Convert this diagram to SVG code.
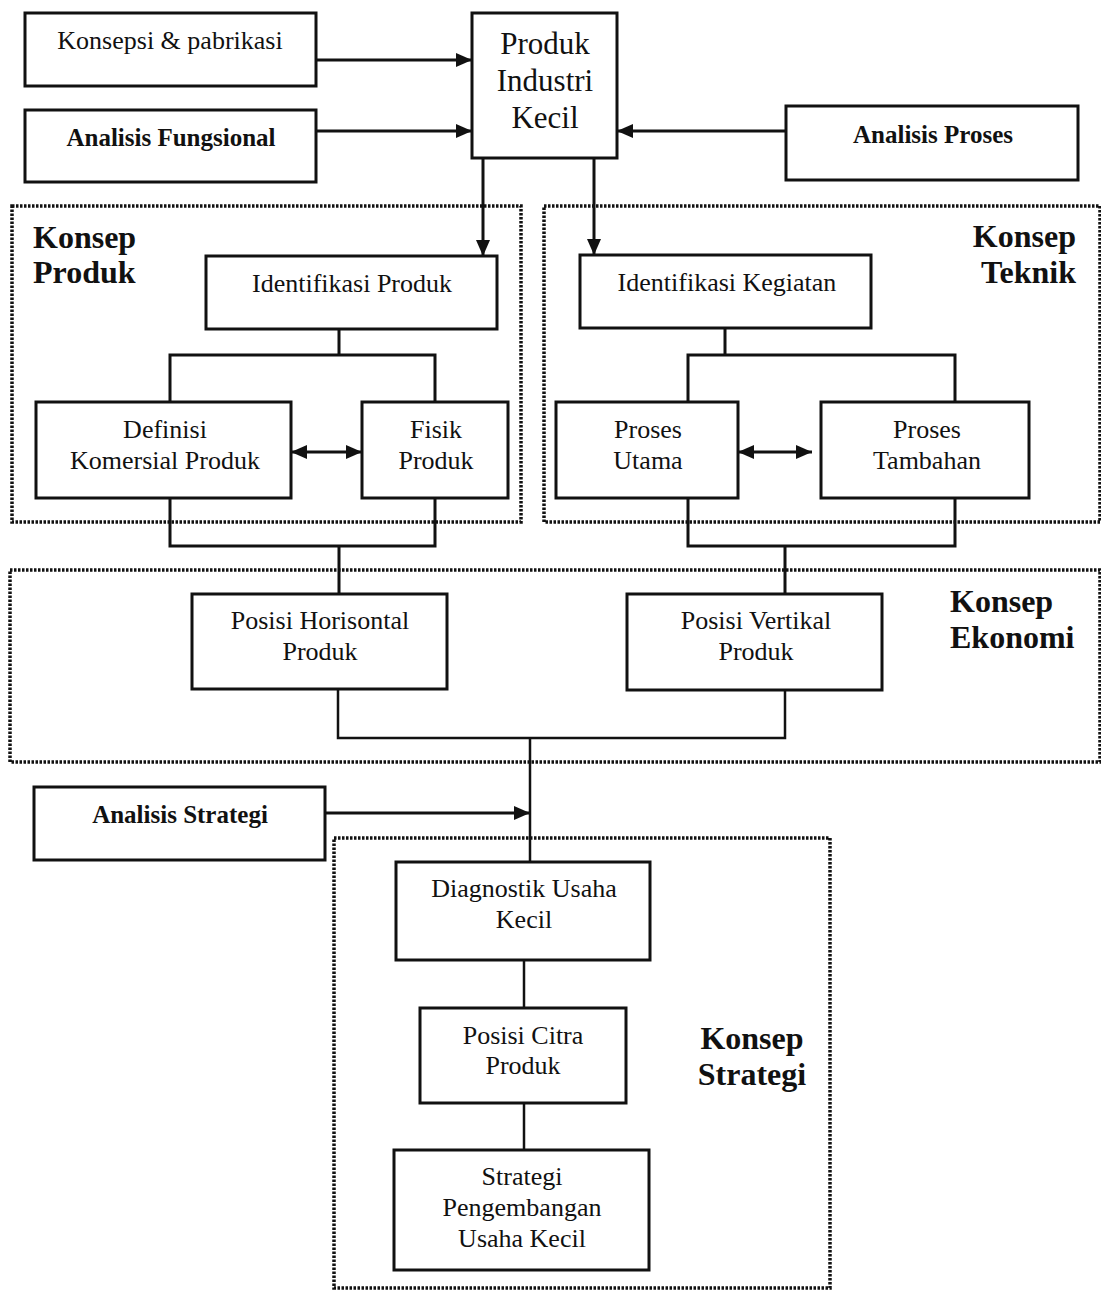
<svg xmlns="http://www.w3.org/2000/svg" width="1101" height="1291" viewBox="0 0 1101 1291">
<defs>
<marker id="ah" viewBox="0 0 16 14" refX="16" refY="7" markerWidth="16" markerHeight="14" markerUnits="userSpaceOnUse" orient="auto-start-reverse">
<path d="M0,0 L16,7 L0,14 z" fill="#111"/>
</marker>
</defs>
<style>
.box{fill:#fff;stroke:#111;stroke-width:3}
.grp{fill:none;stroke:#111;stroke-width:3.5;stroke-dasharray:2.5 1.5}
.t{font-family:"Liberation Serif","Times New Roman",serif;font-size:26px;fill:#111;text-anchor:middle}
.b{font-family:"Liberation Serif","Times New Roman",serif;font-size:25px;font-weight:bold;fill:#111;text-anchor:middle}
.big{font-family:"Liberation Serif","Times New Roman",serif;font-size:31px;fill:#111;text-anchor:middle}
.lbl{font-family:"Liberation Serif","Times New Roman",serif;font-size:32px;font-weight:bold;fill:#111}
.c{fill:none;stroke:#111;stroke-width:3}
.c2{fill:none;stroke:#111;stroke-width:2.5}
</style>
<rect width="1101" height="1291" fill="#fff"/>

<g id="groups">
<rect id="konsep-produk" class="grp" x="12" y="206" width="509" height="316"/>
<rect id="konsep-teknik" class="grp" x="544" y="206" width="556" height="316"/>
<rect id="konsep-ekonomi" class="grp" x="10" y="570" width="1090" height="192"/>
<rect id="konsep-strategi" class="grp" x="334" y="838" width="496" height="450"/>
<text class="lbl" x="33" y="248">Konsep</text>
<text class="lbl" x="33" y="283">Produk</text>
<text class="lbl" x="1076" y="247" text-anchor="end">Konsep</text>
<text class="lbl" x="1076" y="283" text-anchor="end">Teknik</text>
<text class="lbl" x="950" y="612">Konsep</text>
<text class="lbl" x="950" y="648">Ekonomi</text>
<text class="lbl" x="752" y="1049" text-anchor="middle">Konsep</text>
<text class="lbl" x="752" y="1085" text-anchor="middle">Strategi</text>
</g>

<g id="connectors">
<line class="c" x1="316" y1="60" x2="472" y2="60" marker-end="url(#ah)"/>
<line class="c" x1="316" y1="131" x2="472" y2="131" marker-end="url(#ah)"/>
<line class="c" x1="786" y1="131" x2="617" y2="131" marker-end="url(#ah)"/>
<line class="c" x1="483" y1="158" x2="483" y2="256" marker-end="url(#ah)"/>
<line class="c" x1="594" y1="158" x2="594" y2="255" marker-end="url(#ah)"/>
<path class="c" d="M339,329 V355 M170,402 V355 H435 V402"/>
<path class="c" d="M725,328 V355 M688,402 V355 H955 V402"/>
<line class="c" x1="291" y1="452" x2="362" y2="452" marker-start="url(#ah)" marker-end="url(#ah)"/>
<line class="c" x1="738" y1="452" x2="812" y2="452" marker-start="url(#ah)" marker-end="url(#ah)"/>
<path class="c" d="M170,498 V546 H435 V498 M339,546 V594"/>
<path class="c" d="M688,498 V546 H955 V498 M785,546 V594"/>
<path class="c2" d="M338,689 V738 H785 V690 M530,738 V862"/>
<line class="c" x1="325" y1="813" x2="530" y2="813" marker-end="url(#ah)"/>
<line class="c2" x1="524" y1="960" x2="524" y2="1008"/>
<line class="c2" x1="524" y1="1103" x2="524" y2="1150"/>
</g>

<g id="konsepsi"><rect class="box" x="25" y="13" width="291" height="73"/><text class="t" x="170" y="49">Konsepsi &amp; pabrikasi</text></g>
<g id="analisis-fungsional"><rect class="box" x="25" y="110" width="291" height="72"/><text class="b" x="171" y="146">Analisis Fungsional</text></g>
<g id="produk-industri"><rect class="box" x="472" y="13" width="145" height="145"/><text class="big" x="545" y="54">Produk</text><text class="big" x="545" y="91">Industri</text><text class="big" x="545" y="128">Kecil</text></g>
<g id="analisis-proses"><rect class="box" x="786" y="106" width="292" height="74"/><text class="b" x="933" y="143">Analisis Proses</text></g>

<g id="identifikasi-produk"><rect class="box" x="206" y="256" width="291" height="73"/><text class="t" x="352" y="292">Identifikasi Produk</text></g>
<g id="identifikasi-kegiatan"><rect class="box" x="580" y="255" width="291" height="73"/><text class="t" x="727" y="291">Identifikasi Kegiatan</text></g>
<g id="definisi"><rect class="box" x="36" y="402" width="255" height="96"/><text class="t" x="165" y="438">Definisi</text><text class="t" x="165" y="469">Komersial Produk</text></g>
<g id="fisik"><rect class="box" x="362" y="402" width="146" height="96"/><text class="t" x="436" y="438">Fisik</text><text class="t" x="436" y="469">Produk</text></g>
<g id="proses-utama"><rect class="box" x="556" y="402" width="182" height="96"/><text class="t" x="648" y="438">Proses</text><text class="t" x="648" y="469">Utama</text></g>
<g id="proses-tambahan"><rect class="box" x="821" y="402" width="208" height="96"/><text class="t" x="927" y="438">Proses</text><text class="t" x="927" y="469">Tambahan</text></g>

<g id="posisi-horisontal"><rect class="box" x="192" y="594" width="255" height="95"/><text class="t" x="320" y="629">Posisi Horisontal</text><text class="t" x="320" y="660">Produk</text></g>
<g id="posisi-vertikal"><rect class="box" x="627" y="594" width="255" height="96"/><text class="t" x="756" y="629">Posisi Vertikal</text><text class="t" x="756" y="660">Produk</text></g>

<g id="analisis-strategi"><rect class="box" x="34" y="787" width="291" height="73"/><text class="b" x="180" y="823">Analisis Strategi</text></g>
<g id="diagnostik"><rect class="box" x="396" y="862" width="254" height="98"/><text class="t" x="524" y="897">Diagnostik Usaha</text><text class="t" x="524" y="928">Kecil</text></g>
<g id="posisi-citra"><rect class="box" x="420" y="1008" width="206" height="95"/><text class="t" x="523" y="1044">Posisi Citra</text><text class="t" x="523" y="1074">Produk</text></g>
<g id="strategi-pengembangan"><rect class="box" x="394" y="1150" width="255" height="120"/><text class="t" x="522" y="1185">Strategi</text><text class="t" x="522" y="1216">Pengembangan</text><text class="t" x="522" y="1247">Usaha Kecil</text></g>
</svg>
